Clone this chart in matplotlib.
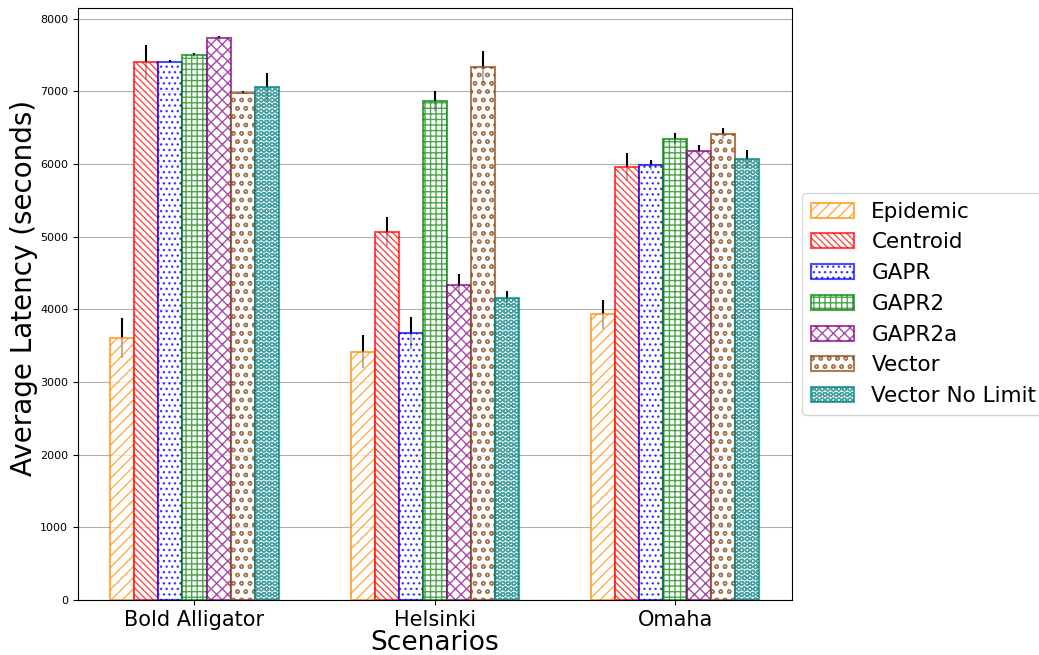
import numpy as np
import matplotlib
matplotlib.use('Agg')
import matplotlib.pyplot as plt

scenarios = ['Bold Alligator', 'Helsinki', 'Omaha']
protocols = ['Epidemic', 'Centroid', 'GAPR', 'GAPR2', 'GAPR2a', 'Vector', 'Vector No Limit']

# mean latency per protocol, one value per scenario
epidemic = [3605, 3420, 3930]
centroid = [7400, 5070, 5960]
gapr = [7410, 3675, 5990]
gapr2 = [7500, 6870, 6350]
gapr2a = [7730, 4340, 6185]
vector = [6985, 7335, 6420]
vector_nolimit = [7060, 4155, 6075]

# error (std) per protocol
epidemic_err = [270, 230, 205]
centroid_err = [245, 200, 195]
gapr_err = [20, 215, 70]
gapr2_err = [30, 140, 80]
gapr2a_err = [30, 140, 75]
vector_err = [20, 220, 70]
vector_nolimit_err = [195, 100, 125]

means = [epidemic, centroid, gapr, gapr2, gapr2a, vector, vector_nolimit]
errs = [epidemic_err, centroid_err, gapr_err, gapr2_err, gapr2a_err, vector_err, vector_nolimit_err]
colors = ['darkorange', 'red', 'blue', 'green', 'purple', 'saddlebrown', 'teal']
hatches = ['///', '\\' * 5, '...', '+++', 'xxx', 'oo', 'OOO']

fig, ax = plt.subplots(figsize=(10.39, 6.55), dpi=100)
fig.subplots_adjust(left=0.075, right=0.762, top=0.988, bottom=0.084)

x = np.arange(len(scenarios))
width = 0.1
for i, name in enumerate(protocols):
    pos = x - 0.3 + i * width
    ax.errorbar(pos, means[i], yerr=errs[i], fmt='none', ecolor='black', elinewidth=1.5, zorder=1)
    ax.bar(pos, means[i], width, label=name, facecolor='white', edgecolor=colors[i],
           hatch=hatches[i], alpha=0.7, linewidth=1.5, zorder=2)

ax.set_xticks(x)
ax.set_xticklabels(scenarios, fontsize=15)
ax.tick_params(axis='y', labelsize=8)
ax.set_ylim(0, 8150)
ax.set_xlabel('Scenarios', fontsize=19, labelpad=0)
ax.set_ylabel('Average Latency (seconds)', fontsize=20)
ax.yaxis.set_label_coords(-0.056, 0.527)
ax.yaxis.grid(True, color='#b0b0b0')
ax.set_axisbelow(True)
ax.legend(loc='center left', bbox_to_anchor=(1, 0.5), fontsize=15.5)

plt.savefig('out.png', dpi=100)
